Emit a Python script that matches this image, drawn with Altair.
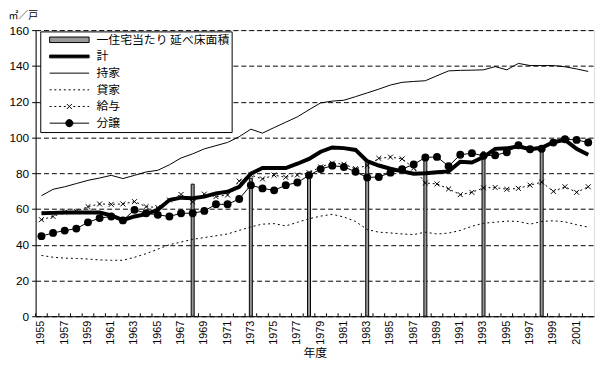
import altair as alt
import pandas as pd

FONT = "Noto Sans CJK JP"
NUM_FONT = "Liberation Sans"

years = list(range(1955, 2003))

total = [57.6, 57.8, 58.0, 58.0, 58.0, 58.0, 56.4, 53.8, 55.8, 57.1,
         59.5, 65.0, 66.3, 66.0, 66.9, 68.7, 69.6, 72.4, 79.7, 82.9,
         82.9, 82.9, 85.3, 88.0, 92.0, 94.4, 94.0, 93.0, 86.7, 84.3,
         82.5, 81.0, 79.7, 80.0, 80.5, 81.0, 86.4, 86.0, 89.0, 93.6,
         93.9, 95.0, 93.4, 94.2, 97.3, 98.6, 93.6, 90.3]

owned = [67.4, 71.0, 72.4, 74.2, 76.0, 77.3, 78.8, 77.0, 78.8, 80.7,
         81.6, 84.7, 88.5, 90.8, 93.6, 95.4, 97.2, 100.4, 104.6, 102.4,
         105.5, 108.5, 111.5, 115.5, 119.3, 120.3, 120.8, 122.8, 124.9, 127.0,
         129.3, 130.8, 131.3, 131.7, 134.5, 137.2, 137.5, 137.6, 137.8, 139.6,
         137.8, 141.4, 140.2, 140.2, 140.2, 139.5, 138.3, 136.9]

rented = [34.0, 33.0, 32.5, 32.3, 32.0, 31.5, 31.3, 31.3, 33.0, 35.0,
          37.5, 40.0, 41.5, 43.0, 44.0, 45.0, 46.0, 48.0, 50.0, 51.5,
          51.8, 50.5, 52.5, 54.5, 56.0, 57.0, 55.5, 53.0, 48.5, 47.0,
          46.6, 46.0, 45.7, 47.0, 46.0, 46.5, 48.0, 50.3, 52.0, 52.6,
          53.2, 53.0, 51.5, 53.0, 53.4, 52.8, 51.2, 49.8]

issued = [54.0, 55.8, 58.2, 58.6, 61.3, 62.8, 62.6, 62.8, 64.1, 61.3,
          60.8, 65.0, 68.1, 64.0, 68.3, 66.9, 67.8, 75.6, 78.9, 76.8,
          78.9, 77.7, 79.0, 80.3, 83.5, 85.6, 85.0, 82.5, 84.3, 88.3,
          89.0, 88.0, 82.9, 74.5, 74.0, 71.2, 68.0, 69.3, 71.8, 72.0,
          71.0, 71.5, 73.3, 75.0, 69.8, 72.4, 69.3, 72.4]

sale = [44.8, 46.6, 47.9, 49.0, 52.5, 54.9, 55.8, 53.6, 59.5, 57.6,
        56.7, 55.8, 57.6, 57.6, 58.9, 62.6, 62.6, 65.6, 73.3, 71.5,
        70.4, 73.3, 74.8, 78.8, 82.3, 84.2, 83.5, 80.8, 77.6, 77.9,
        80.3, 82.3, 84.9, 88.8, 89.1, 83.9, 90.3, 91.2, 89.7, 90.0,
        91.7, 95.6, 93.4, 93.7, 97.1, 99.0, 98.6, 97.2]

survey_years = [1968, 1973, 1978, 1983, 1988, 1993, 1998]
survey_area = [73.86, 77.14, 80.28, 85.92, 89.29, 91.92, 92.43]

bar_name = "一住宅当たり 延べ床面積"
series_names = ["計", "持家", "貸家", "給与", "分譲"]
legend_names = [bar_name] + series_names

rows = []
for name, vals in zip(series_names, [total, owned, rented, issued, sale]):
    for yr, v in zip(years, vals):
        rows.append({"year": yr, "value": v, "series": name})
lines_df = pd.DataFrame(rows)
bars_df = pd.DataFrame({"year": survey_years, "value": survey_area,
                        "series": [bar_name] * len(survey_years)})
ticks_df = pd.DataFrame({"year": years})

x_scale = alt.Scale(type="band", domain=years, paddingInner=0, paddingOuter=0)
x_axis = alt.Axis(title="年度", labelAngle=270, labelAlign="right", labelBaseline="middle",
                  labelExpr="datum.value % 2 == 1 ? datum.label : ''",
                  labelOverlap=False, ticks=False, labelPadding=4,
                  labelFontSize=11, titleFontSize=12, titlePadding=3,
                  titleFontWeight="normal", domainColor="black",
                  labelColor="black", titleColor="black", grid=False,
                  labelFont=NUM_FONT, titleFont=FONT)
x_enc = alt.X("year:O", scale=x_scale, axis=x_axis)

y_scale = alt.Scale(domain=[0, 160], nice=False)
y_axis = alt.Axis(values=list(range(0, 161, 20)), title="㎡／戸", titleAngle=0,
                  titleX=-28, titleY=-20, titleAlign="left", titleBaseline="top",
                  titleFontSize=10, titleFontWeight="normal", titleColor="black",
                  grid=True, gridColor="black", gridDash=[5, 3], gridWidth=1,
                  tickSize=4, tickColor="black", domainColor="black",
                  labelFontSize=12, labelPadding=3, labelColor="black",
                  labelFont=NUM_FONT, titleFont=FONT)
y_enc = alt.Y("value:Q", scale=y_scale, axis=y_axis)


def dotted_path(skip_center=False):
    segs = []
    x = -1.0
    while x < 1.0:
        if not (skip_center and -0.2 < x < 0.12):
            segs.append(f"M{x:.2f},0H{min(x + 0.1, 1.0):.2f}")
        x += 0.24
    return "".join(segs)


bar_path = "M-1,-0.14H1V0.14H-1Z"
thick_path = "M-1,-0.07H1V0.07H-1Z"
rent_path = dotted_path()
issued_path = dotted_path(True) + "M-0.13,-0.13L0.13,0.13M-0.13,0.13L0.13,-0.13"
sale_path = "M-1,0H1M-0.18,0A0.18,0.18,0,1,0,0.18,0A0.18,0.18,0,1,0,-0.18,0Z"

shape_expr = (
    f"datum.value == '{bar_name}' ? '{bar_path}' : "
    f"datum.value == '計' ? '{thick_path}' : "
    f"datum.value == '貸家' ? '{rent_path}' : "
    f"datum.value == '給与' ? '{issued_path}' : "
    f"datum.value == '分譲' ? '{sale_path}' : 'stroke'"
)

legend = alt.Legend(
    title=None, orient="none", legendX=4.7, legendY=1.3,
    fillColor="white", strokeColor="black", padding=2,
    symbolSize=1600, clipHeight=13, rowPadding=3.9,
    labelFont=FONT, labelFontSize=12, labelColor="black",
    symbolOffset=7, labelOffset=7, symbolStrokeWidth=1,
    symbolStrokeColor="black", symbolOpacity=1,
    symbolType={"expr": shape_expr},
)

bars = alt.Chart(bars_df).mark_bar(width=3, stroke="black", strokeWidth=1).encode(
    x=x_enc, y=y_enc,
    color=alt.Color("series:N",
                    scale=alt.Scale(domain=legend_names,
                                    range=["#999999"] + ["black"] * 5),
                    legend=legend),
)

tick_marks = alt.Chart(ticks_df).mark_rule(color="black", strokeWidth=1).encode(
    x=alt.X("year:O", bandPosition=0, scale=x_scale, axis=x_axis),
    y=alt.value(290), y2=alt.value(287),
)

base = alt.Chart(lines_df)

thick = base.transform_filter("datum.series == '計'").mark_line(
    color="black", strokeWidth=4).encode(x=x_enc, y=y_enc)

thin = base.transform_filter(
    "datum.series == '持家' || datum.series == '分譲'").mark_line(
    color="black", strokeWidth=1).encode(x=x_enc, y=y_enc, detail="series:N")

dotted = base.transform_filter(
    "datum.series == '貸家' || datum.series == '給与'").mark_line(
    color="black", strokeWidth=1, strokeDash=[2, 3]).encode(
    x=x_enc, y=y_enc, detail="series:N")

x_marks = base.transform_filter("datum.series == '給与'").mark_point(
    shape="M-1,-1L1,1M-1,1L1,-1", size=25, filled=False, color="black",
    strokeWidth=1, opacity=1).encode(x=x_enc, y=y_enc)

dots = base.transform_filter("datum.series == '分譲'").mark_circle(
    size=64, color="black", opacity=1).encode(x=x_enc, y=y_enc)

chart = alt.layer(bars, tick_marks, dotted, thin, thick, x_marks, dots).properties(
    width=566, height=290,
    padding={"left": 28, "top": 20, "right": 3, "bottom": 48},
    autosize=alt.AutoSizeParams(type="none"),
    background="white",
).configure_view(stroke="black", strokeWidth=1).configure(font=FONT)

chart.save("out.html", embed_options={"renderer": "svg", "actions": False})
